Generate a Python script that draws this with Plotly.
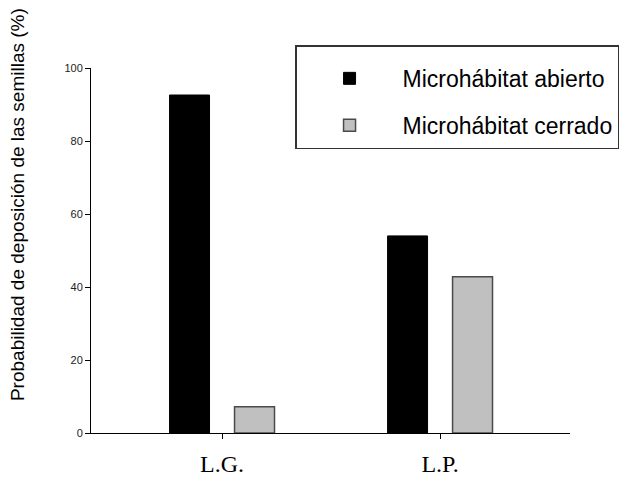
import plotly.graph_objects as go

categories = ["L.G.", "L.P."]
abierto = [92.6, 54.0]
cerrado = [7.2, 42.8]
series_names = ["Microhábitat abierto", "Microhábitat cerrado"]
y_ticks = [0, 20, 40, 60, 80, 100]

fig = go.Figure()
fig.add_trace(go.Bar(
    x=[0, 1], y=abierto, name=series_names[0], legendgroup="a",
    marker=dict(color="#000000", line=dict(color="#000000", width=1)),
))
fig.add_trace(go.Bar(
    x=[0, 1], y=cerrado, name=series_names[1], legendgroup="b",
    marker=dict(color="#c0c0c0", line=dict(color="#4a4a4a", width=1.5)),
))

fig.update_layout(
    width=640, height=480,
    margin=dict(l=83, r=78, t=60, b=55),
    paper_bgcolor="white", plot_bgcolor="white",
    barmode="group", bargap=0.404, bargroupgap=0.385,
    showlegend=True,
    legend=dict(
        x=0.426, y=1.063, xanchor="left", yanchor="top",
        bordercolor="#333333", borderwidth=1.5, bgcolor="white",
        font=dict(family="Liberation Sans, Arial", size=23, color="#000000"),
        traceorder="grouped", tracegroupgap=14,
        itemwidth=96,
        title=dict(text=" ", font=dict(size=8)),
    ),
    xaxis=dict(
        range=[-0.601, 1.596],
        tickvals=[0, 1], ticktext=categories,
        showline=True, linecolor="#000000", linewidth=1,
        ticks="outside", ticklen=5, tickcolor="#000000",
        tickfont=dict(family="Liberation Serif, Times New Roman", size=24, color="#000000"),
        showgrid=False, zeroline=False,
        ticklabelstandoff=4,
    ),
    yaxis=dict(
        range=[0, 100],
        tickvals=y_ticks,
        showline=True, linecolor="#000000", linewidth=1,
        ticks="outside", ticklen=5, tickcolor="#000000",
        tickfont=dict(family="Liberation Sans, Arial", size=11, color="#222222"),
        showgrid=False, zeroline=False,
    ),
    annotations=[dict(
        text="Probabilidad de deposición de las semillas (%)",
        xref="paper", yref="paper", x=-0.152, y=0.625,
        textangle=-90, showarrow=False, xanchor="center", yanchor="middle",
        font=dict(family="Liberation Sans, Arial", size=19, color="#000000"),
    )],
)

fig.write_html("out.html")
